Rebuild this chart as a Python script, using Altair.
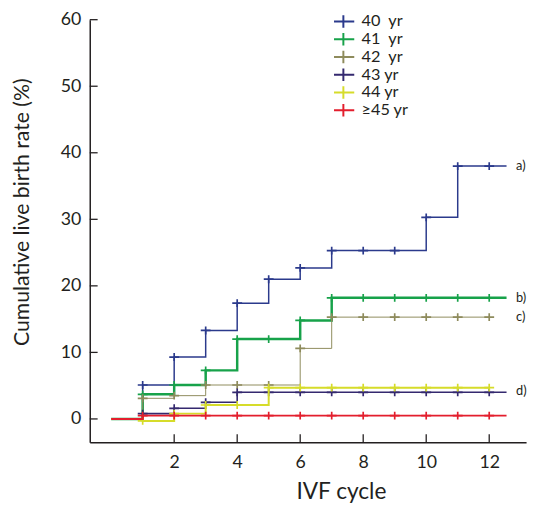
import altair as alt
import pandas as pd

# ---------------- data ----------------
cycles = list(range(1, 13))
groups = ["40\u00a0 yr", "41\u00a0 yr", "42\u00a0 yr", "43 yr", "44 yr", "≥45 yr"]

rate_40 = [5.1, 9.3, 13.3, 17.4, 21.0, 22.7, 25.3, 25.3, 25.3, 30.3, 38.0, 38.0]
rate_41 = [3.7, 5.1, 7.3, 12.0, 12.0, 14.8, 18.2, 18.2, 18.2, 18.2, 18.2, 18.2]
rate_42 = [3.1, 3.5, 5.1, 5.1, 5.1, 10.6, 15.3, 15.3, 15.3, 15.3, 15.3, 15.3]
rate_43 = [0.8, 1.6, 2.5, 4.0, 4.0, 4.0, 4.0, 4.0, 4.0, 4.0, 4.0, 4.0]
rate_44 = [-0.3, 0.8, 2.1, 2.1, 4.7, 4.7, 4.7, 4.7, 4.7, 4.7, 4.7, 4.7]
rate_45 = [0.5, 0.5, 0.5, 0.5, 0.5, 0.5, 0.5, 0.5, 0.5, 0.5, 0.5, 0.5]
series_values = [rate_40, rate_41, rate_42, rate_43, rate_44, rate_45]
# curves that keep going a little past the last cycle
extends = [True, True, False, True, False, True]

note_labels = ["a)", "b)", "c)", "d)"]
note_values = [38.0, 18.2, 15.3, 4.2]

x_ticks = [2, 4, 6, 8, 10, 12]
y_ticks = [0, 10, 20, 30, 40, 50, 60]

# ---------------- styling ----------------
colors = ["#2B3A8C", "#17A24A", "#8E8B5C", "#34296F", "#D6DC2A", "#E31E2D"]
widths = [1.5, 2.5, 1.0, 1.6, 2.0, 2.0]
FONT = "Lato"
AXC = "#231F20"
W, H = 443, 429
X_DOMAIN = [-0.68, 13.17]
Y_DOMAIN = [-3.5, 60]
TAIL_X = 12.55
NOTE_X = 12.85
PT_CROSS = "M-1,0H1M0,-0.8V0.8"
LEG_CROSS = "M-1.3,0H1.3M0,-0.75V0.75"

x_scale = alt.Scale(domain=X_DOMAIN, nice=False, zero=False)
y_scale = alt.Scale(domain=Y_DOMAIN, nice=False, zero=False)
color_scale = alt.Scale(domain=groups, range=colors)

x_axis = alt.Axis(values=x_ticks, tickSize=0, labelPadding=12, grid=False,
                  domainColor=AXC, domainWidth=1.5, labelColor=AXC,
                  labelFont=FONT, labelFontSize=18, title="IVF cycle",
                  titleFont=FONT, titleFontSize=23, titleFontWeight="normal",
                  titleColor=AXC, titleX=255, titleY=39, titleAnchor="middle",
                  titleAlign="center", titleBaseline="top")
y_axis = alt.Axis(values=y_ticks, tickSize=0, labelPadding=9, grid=False,
                  domainColor=AXC, domainWidth=1.5, labelColor=AXC,
                  labelFont=FONT, labelFontSize=18,
                  title="Cumulative live birth rate (%)", titleFont=FONT,
                  titleFontSize=21.5, titleFontWeight="normal", titleColor=AXC,
                  titleX=-68, titleY=195, titleAngle=270, titleAlign="center",
                  titleBaseline="middle")
legend = alt.Legend(orient="none", legendX=248, legendY=-6, title=None,
                    symbolType=LEG_CROSS, symbolSize=289, symbolStrokeWidth=2,
                    symbolFillColor="transparent", labelFont=FONT,
                    labelFontSize=16.5, labelColor=AXC, labelOffset=9,
                    clipHeight=15.8, rowPadding=0, padding=0)

layers = []
for g, vals, ext, w in zip(groups, series_values, extends, widths):
    xs = [0] + cycles + ([TAIL_X] if ext else [])
    ys = [0] + vals + ([vals[-1]] if ext else [])
    line_df = pd.DataFrame({"cycle": xs, "rate": ys, "group": g})
    pt_df = pd.DataFrame({"cycle": cycles, "rate": vals, "group": g})
    enc = dict(
        x=alt.X("cycle:Q", scale=x_scale, axis=x_axis),
        y=alt.Y("rate:Q", scale=y_scale, axis=y_axis),
        color=alt.Color("group:N", scale=color_scale, legend=legend),
    )
    layers.append(alt.Chart(line_df).mark_line(
        interpolate="step-after", strokeWidth=w).encode(**enc))
    layers.append(alt.Chart(pt_df).mark_point(
        shape=PT_CROSS, size=100, strokeWidth=1.7, filled=False,
        opacity=1).encode(**enc))

# inward-pointing axis ticks
ytick_df = pd.DataFrame({"v": y_ticks})
xtick_df = pd.DataFrame({"v": x_ticks})
layers.append(alt.Chart(ytick_df).mark_rule(color=AXC, strokeWidth=1.3).encode(
    y=alt.Y("v:Q", scale=y_scale, axis=y_axis),
    x=alt.value(0), x2=alt.value(8)))
layers.append(alt.Chart(xtick_df).mark_rule(color=AXC, strokeWidth=1.3).encode(
    x=alt.X("v:Q", scale=x_scale, axis=x_axis),
    y=alt.value(H), y2=alt.value(H - 8)))

# a) b) c) d) notes
note_df = pd.DataFrame({"label": note_labels, "rate": note_values,
                        "cycle": [NOTE_X] * len(note_labels)})
layers.append(alt.Chart(note_df).mark_text(
    align="left", baseline="middle", font=FONT, fontSize=13, color=AXC).encode(
    x=alt.X("cycle:Q", scale=x_scale, axis=x_axis),
    y=alt.Y("rate:Q", scale=y_scale, axis=y_axis),
    text="label:N"))

chart = alt.layer(*layers).properties(
    width=W, height=H,
    autosize=alt.AutoSizeParams(type="none"),
    padding={"left": 83, "top": 8, "right": 5, "bottom": 69},
).configure_view(stroke=None)

chart.save("out.html", embed_options={"renderer": "svg", "actions": False})
